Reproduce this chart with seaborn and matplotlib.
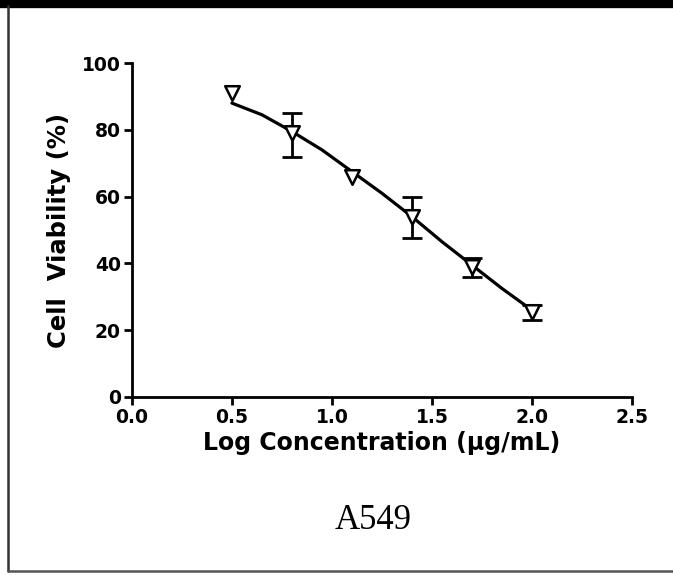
import pandas as pd
import matplotlib.pyplot as plt
import seaborn as sns
from matplotlib.lines import Line2D

# --- datos ---
log_conc = [0.5, 0.8, 1.1, 1.4, 1.7, 2.0]
viabilidad = [91, 79, 66, 54, 39, 25.5]
err_sup = [0, 6, 0, 6, 2.5, 2]
err_inf = [0, 7, 0, 6.5, 3, 2.5]

# curva ajustada (puntos leidos sobre la linea)
curva_x = [0.5, 0.65, 0.8, 0.95, 1.1, 1.25, 1.4, 1.55, 1.7, 1.85, 2.0]
curva_y = [88, 84.5, 79.5, 74, 67.5, 61, 54, 46.5, 39.5, 32.5, 26]

x_ticks = [0.0, 0.5, 1.0, 1.5, 2.0, 2.5]
y_ticks = [0, 20, 40, 60, 80, 100]

df_pts = pd.DataFrame({"x": log_conc, "y": viabilidad, "sup": err_sup, "inf": err_inf})
df_curva = pd.DataFrame({"x": curva_x, "y": curva_y})
df_err = df_pts[(df_pts["sup"] > 0) | (df_pts["inf"] > 0)]

sns.set_theme(style="ticks")
plt.rcParams["font.family"] = ["DejaVu Sans"]
plt.rcParams["text.color"] = "black"
plt.rcParams["axes.labelcolor"] = "black"
plt.rcParams["xtick.color"] = "black"
plt.rcParams["ytick.color"] = "black"

fig = plt.figure(figsize=(6.73, 5.75), dpi=100)
ax = fig.add_axes([0.196, 0.3096, 0.743, 0.5808])

sns.lineplot(data=df_curva, x="x", y="y", color="black", linewidth=2.3, ax=ax)
ax.errorbar(df_err["x"], df_err["y"], yerr=[df_err["inf"], df_err["sup"]], fmt="none",
            ecolor="black", elinewidth=2, capsize=7, capthick=2)
sns.scatterplot(data=df_pts, x="x", y="y", marker="v", s=110, facecolor="white",
                edgecolor="black", linewidth=1.8, zorder=5, ax=ax)

ax.set_xlim(0, 2.5)
ax.set_ylim(0, 100)
ax.set_xticks(x_ticks)
ax.set_xticklabels([f"{t:.1f}" for t in x_ticks])
ax.set_yticks(y_ticks)
sns.despine(ax=ax)
for s in ["left", "bottom"]:
    ax.spines[s].set_linewidth(2)
    ax.spines[s].set_color("black")
ax.tick_params(axis="both", length=6, width=2, labelsize=13.5, pad=2)
for lbl in ax.get_xticklabels() + ax.get_yticklabels():
    lbl.set_fontweight("bold")

ax.set_xlabel("Log Concentration (µg/mL)", fontsize=17, fontweight="bold", labelpad=3)
ax.set_ylabel("Cell  Viability (%)", fontsize=17.5, fontweight="bold", labelpad=8)

fig.text(0.554, 0.095, "A549", ha="center", va="center", fontsize=25,
         family=["Liberation Serif", "DejaVu Serif"])

# marco de la imagen
fig.add_artist(Line2D([0, 1], [0.993, 0.993], color="black", linewidth=6, transform=fig.transFigure))
fig.add_artist(Line2D([0.0115, 0.0115], [0.007, 0.99], color="#333333", linewidth=1.8, transform=fig.transFigure))
fig.add_artist(Line2D([0.0115, 1], [0.007, 0.007], color="#555555", linewidth=1.8, transform=fig.transFigure))

fig.savefig("out.png", dpi=100)
